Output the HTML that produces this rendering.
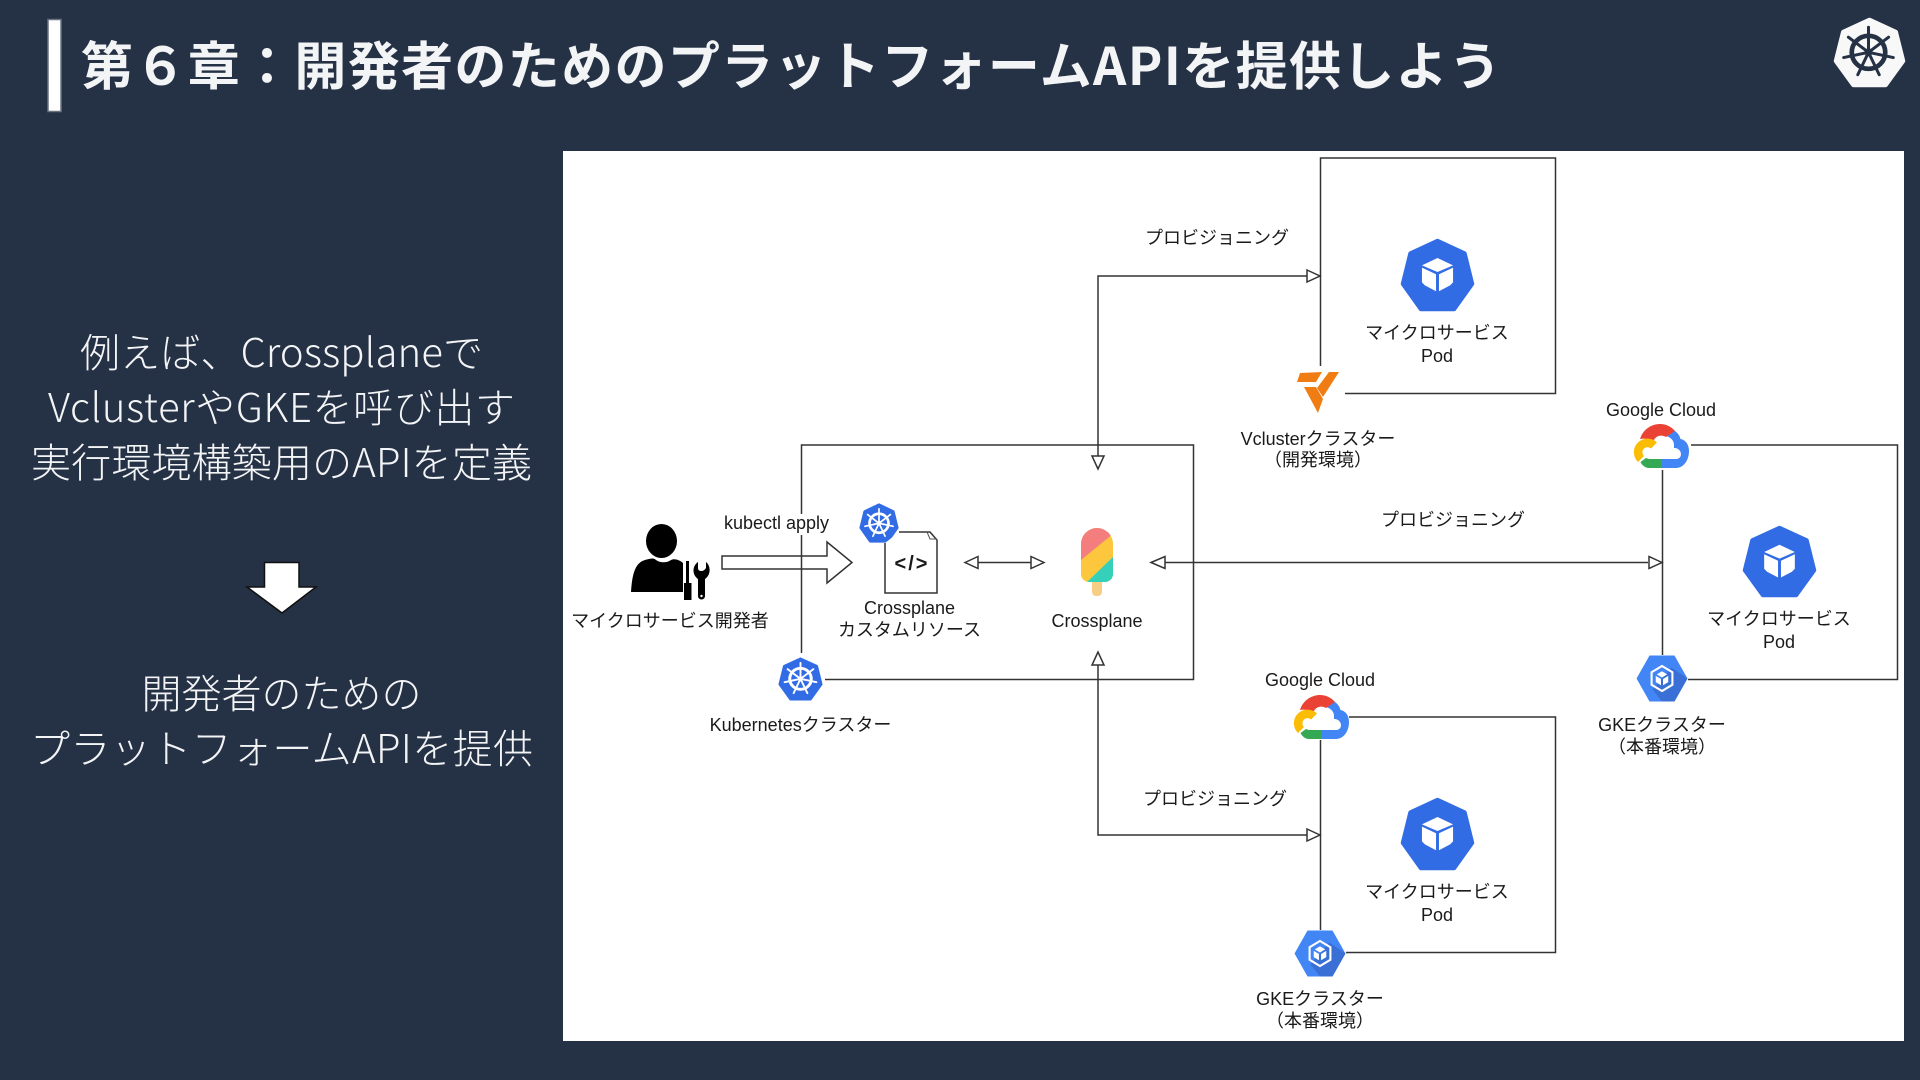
<!DOCTYPE html>
<html lang="ja">
<head>
<meta charset="utf-8">
<title>第6章</title>
<style>
html,body{margin:0;padding:0;background:#253144;width:1920px;height:1080px;overflow:hidden}
svg{display:block}
.s{font-family:"Liberation Sans","Noto Sans CJK JP",sans-serif;font-size:18px;fill:#1a1a1a;text-anchor:middle}
.l{font-family:"Noto Sans CJK JP","Liberation Sans",sans-serif;font-size:40px;font-weight:300;fill:#f3f4f6;text-anchor:middle}
.t{font-family:"Noto Sans CJK JP","Liberation Sans",sans-serif;font-size:52px;font-weight:700;fill:#f3f4f6}
.c{fill:none;stroke:#333;stroke-width:1.5}
.a{fill:#fff;stroke:#333;stroke-width:1.5}
</style>
</head>
<body>
<svg width="1920" height="1080" viewBox="0 0 1920 1080" xmlns="http://www.w3.org/2000/svg">
<defs>
  <symbol id="hept" viewBox="0 0 100 100" preserveAspectRatio="none">
    <polygon points="50,4 86,21 96,62 72,96 28,96 4,62 14,21" fill="currentColor" stroke="currentColor" stroke-width="6" stroke-linejoin="round"/>
  </symbol>
  <symbol id="wheel" viewBox="0 0 100 100" preserveAspectRatio="none">
    <circle cx="50" cy="52" r="25" fill="none" stroke="currentColor" stroke-width="7"/>
    <circle cx="50" cy="52" r="6" fill="currentColor"/>
    <path d="M50 52l0-38M50 52l30-23M50 52l37 8M50 52l16 34M50 52l-16 34M50 52l-37 8M50 52l-30-23" fill="none" stroke="currentColor" stroke-width="4.500" stroke-linecap="round"/>
  </symbol>
  <symbol id="cube" viewBox="0 0 100 100">
    <polygon points="50,27 71,37 50,46 29,37" fill="#fff"/>
    <polygon points="29,40 48,49 48,72 33,64 29,60" fill="#fff"/>
    <polygon points="71,40 52,49 52,72 67,64 71,60" fill="#fff"/>
  </symbol>
  <symbol id="gke" viewBox="0 0 100 90" preserveAspectRatio="none">
    <polygon points="26,1 74,1 99,45 74,89 26,89 1,45" fill="#4285f4"/>
    <polygon points="68,24 99,45 74,89 50,89 32,66" fill="#3a6fd6"/>
    <polygon points="50,21 70,33 70,57 50,69 30,57 30,33" fill="none" stroke="#fff" stroke-width="4"/>
    <polygon points="50,31 60,37 50,43 40,37" fill="#fff"/>
    <polygon points="38,40 48,46 48,58 38,52" fill="#fff"/>
    <polygon points="62,40 52,46 52,58 62,52" fill="#fff"/>
  </symbol>
  <symbol id="gc" viewBox="0 0 56 44" preserveAspectRatio="none">
    <path fill="#4285f4" d="M38 4L42 7C46 10 47 13 47.500 15C53 16 56 21 56 27C56 37 50 44 43 44L28 44L28 35L43 35C48 35 49 30 47 27C45 24 42 24 41 24L41 21C41 16 37 13 33 12Z"/>
    <path fill="#ea4335" d="M7 15C10 5 19 0 27 0C32 0 37 2 40 5L42 7L33 13C28 10 22 12 20 18C16 15 11 14 7 15Z"/>
    <path fill="#34a853" d="M7.500 38L13 34Q15 35 17 35L28 35L28 44L16 44C12 44 9 41 7.500 38Z"/>
    <path fill="none" stroke="#fbbc05" stroke-width="8.500" d="M21 21.500A9 9 0 1 0 8 35"/>
  </symbol>
  <clipPath id="pop"><path d="M1081 544a16 16 0 0 1 32 0v30a8 8 0 0 1-8 8h-16a8 8 0 0 1-8-8z"/></clipPath>
</defs>

<!-- header -->
<rect x="48" y="19.500" width="13" height="92" fill="#fff" stroke="#6b7280" stroke-width="1.500"/>
<text class="t" x="81" y="85" textLength="1420" lengthAdjust="spacing">第６章：開発者のためのプラットフォームAPIを提供しよう</text>
<use href="#hept" x="1833" y="17" width="73" height="71" style="color:#f8f8f8"/>
<use href="#wheel" x="1835" y="18" width="67" height="66" style="color:#253144"/>

<!-- left column -->
<text class="l" x="281.500" y="367" textLength="403" lengthAdjust="spacing">例えば、Crossplaneで</text>
<text class="l" x="281.500" y="422" textLength="467" lengthAdjust="spacing">VclusterやGKEを呼び出す</text>
<text class="l" x="281.500" y="477" textLength="501" lengthAdjust="spacing">実行環境構築用のAPIを定義</text>
<polygon points="264.500,562.500 299,562.500 299,587 316,587 282,613 247,587 264.500,587" fill="#fff" stroke="#111" stroke-width="1.500" stroke-linejoin="miter"/>
<text class="l" x="281.500" y="708" textLength="280" lengthAdjust="spacing">開発者のための</text>
<text class="l" x="281.500" y="763" textLength="503" lengthAdjust="spacing">プラットフォームAPIを提供</text>

<!-- white panel -->
<rect x="563" y="151" width="1341" height="890" fill="#fff"/>

<!-- block arrow behind cluster line -->
<polygon points="722,556 827,556 827,542 852,562.500 827,583 827,569 722,569" fill="#fff" stroke="#333" stroke-width="1.500"/>

<!-- cluster boxes -->
<path class="c" d="M801.500 653V445H1193.500V679.500H825"/>
<path class="c" d="M1320.500 366V158H1555.500V393.500H1345"/>
<path class="c" d="M1662.500 655V470M1691 445H1897.500V679.500H1688"/>
<path class="c" d="M1320.500 930V740M1349 717H1555.500V952.500H1346"/>

<!-- connectors -->
<path class="c" d="M1320 276H1098V456"/>
<path class="c" d="M1320 835H1098V665"/>
<path class="c" d="M1165 562.500H1648"/>
<path class="c" d="M978 562.500H1031"/>
<polygon class="a" points="1320,276 1307,270 1307,282"/>
<polygon class="a" points="1098,469 1092,456 1104,456"/>
<polygon class="a" points="1320,835 1307,829 1307,841"/>
<polygon class="a" points="1098,652 1092,665 1104,665"/>
<polygon class="a" points="1151,562.500 1165,556.500 1165,568.500"/>
<polygon class="a" points="1662,562.500 1649,556.500 1649,568.500"/>
<polygon class="a" points="965,562.500 978,556.500 978,568.500"/>
<polygon class="a" points="1044,562.500 1031,556.500 1031,568.500"/>

<!-- kubectl apply -->
<rect x="722" y="514" width="110" height="21" fill="#fff"/>
<text class="s" x="776.500" y="529">kubectl apply</text>

<!-- person -->
<ellipse cx="661.500" cy="541" rx="15.500" ry="17" fill="#000"/>
<path d="M631 592C632 577 634 563 645 560C652 558 654 558 656 560C660 563 667 563 671 560C674 558 680 560 683 563V592Z" fill="#000"/>
<path d="M686 561h3v22h2.500v17h-7.500v-17h2z" fill="#000"/>
<path d="M698 562C692 566 692 575 698 579V596A3.500 3.500 0 0 0 705 596V579C711 575 711 566 706 562V568Q704 571 701.500 571Q698 571 698 568Z" fill="#000"/>
<circle cx="701.500" cy="596" r="1.200" fill="#fff"/>
<text class="s" x="670" y="627">マイクロサービス開発者</text>

<!-- k8s small -->
<use href="#hept" x="859" y="503" width="40" height="40" style="color:#326ce5"/>
<use href="#wheel" x="860" y="503.500" width="38" height="38" style="color:#fff"/>

<!-- doc -->
<path d="M885 543V593H937V540L930 532H899" fill="#fff" stroke="#333" stroke-width="1.500"/>
<path d="M927 532l3 7h7" fill="none" stroke="#555" stroke-width="1"/>
<text x="912" y="570" font-family="Liberation Sans,sans-serif" font-weight="700" font-size="20" letter-spacing="2" text-anchor="middle" fill="#1a1a1a">&lt;/&gt;</text>
<text class="s" x="909.500" y="614">Crossplane</text>
<text class="s" x="909.500" y="636">カスタムリソース</text>

<!-- popsicle -->
<rect x="1092" y="578" width="10" height="18" rx="4" fill="#f6cf85"/>
<g clip-path="url(#pop)">
  <rect x="1081" y="528" width="33" height="54" fill="#fcc73c"/>
  <polygon points="1081,528 1114,528 1114,533 1081,560" fill="#f47e7e"/>
  <polygon points="1114,556 1114,582 1087,582" fill="#35d0ba"/>
</g>
<text class="s" x="1097" y="627">Crossplane</text>

<!-- k8s cluster icon -->
<use href="#hept" x="778" y="657" width="45" height="44" style="color:#326ce5"/>
<use href="#wheel" x="779" y="657" width="43" height="42" style="color:#fff"/>
<text class="s" x="800.500" y="731">Kubernetesクラスター</text>

<!-- Pods -->
<use href="#hept" x="1400" y="238" width="75" height="74" style="color:#326ce5"/>
<use href="#cube" x="1400" y="238" width="75" height="74"/>
<text class="s" x="1437" y="339">マイクロサービス</text>
<text class="s" x="1437" y="362">Pod</text>

<use href="#hept" x="1742" y="525" width="75" height="73" style="color:#326ce5"/>
<use href="#cube" x="1742" y="525" width="75" height="73"/>
<text class="s" x="1779" y="625">マイクロサービス</text>
<text class="s" x="1779" y="648">Pod</text>

<use href="#hept" x="1400" y="797" width="75" height="74" style="color:#326ce5"/>
<use href="#cube" x="1400" y="797" width="75" height="74"/>
<text class="s" x="1437" y="898">マイクロサービス</text>
<text class="s" x="1437" y="921">Pod</text>

<!-- vcluster -->
<polygon points="1300,373 1322,372 1316,382 1297,382" fill="#f07d14"/>
<polygon points="1329,372 1339,372 1323,397 1317,388" fill="#f07d14"/>
<polygon points="1304,387 1316,387 1323,399 1318,413" fill="#f07d14"/>
<text class="s" x="1318" y="445">Vclusterクラスター</text>
<text class="s" x="1318" y="466">（開発環境）</text>

<!-- Google cloud 1 -->
<text class="s" x="1661" y="416">Google Cloud</text>
<use href="#gc" x="1633" y="424" width="56" height="44"/>
<use href="#gke" x="1636" y="655" width="52" height="47"/>
<text class="s" x="1662" y="731">GKEクラスター</text>
<text class="s" x="1662" y="753">（本番環境）</text>

<!-- Google cloud 2 -->
<text class="s" x="1320" y="686">Google Cloud</text>
<use href="#gc" x="1293" y="695" width="56" height="44"/>
<use href="#gke" x="1294" y="930" width="52" height="47"/>
<text class="s" x="1320" y="1005">GKEクラスター</text>
<text class="s" x="1320" y="1027">（本番環境）</text>

<!-- provisioning labels -->
<text class="s" x="1217" y="244">プロビジョニング</text>
<text class="s" x="1453" y="526">プロビジョニング</text>
<text class="s" x="1215" y="805">プロビジョニング</text>
</svg>
</body>
</html>
